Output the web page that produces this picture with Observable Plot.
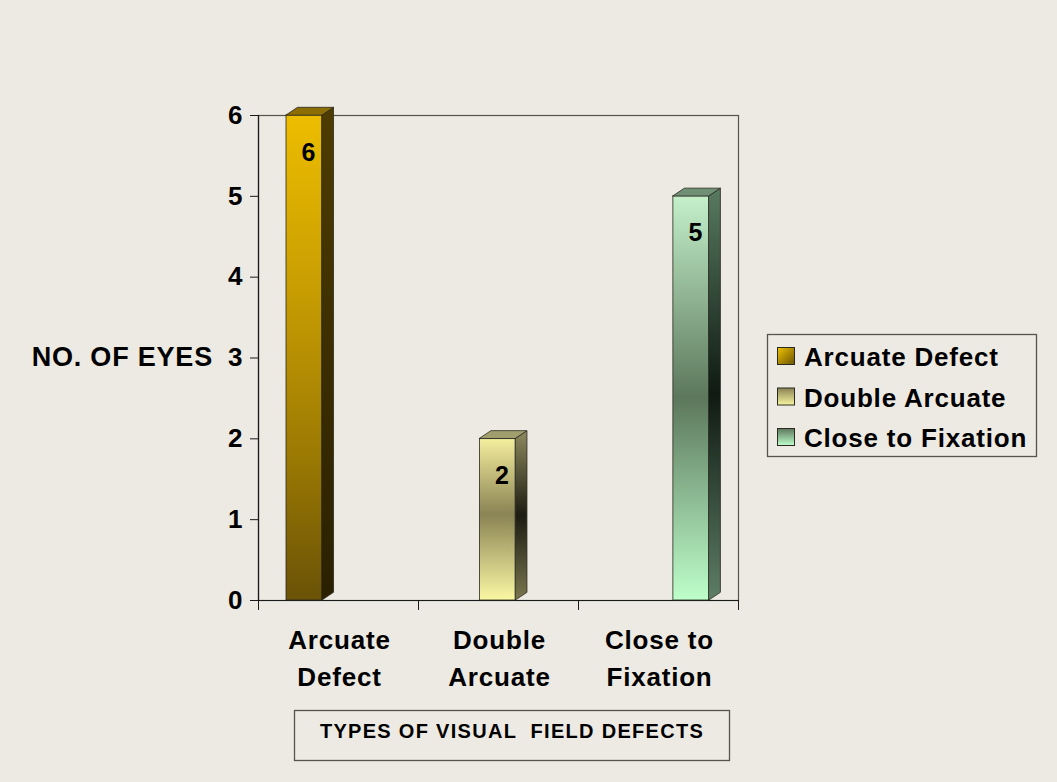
<!DOCTYPE html>
<html>
<head>
<meta charset="utf-8">
<script src="https://cdn.jsdelivr.net/npm/d3@7"></script>
<script src="https://cdn.jsdelivr.net/npm/@observablehq/plot@0.6"></script>
<style>
  html, body { margin: 0; padding: 0; background: #ECEAE2; }
  #chart { width: 1057px; height: 782px; }
  svg text { font-family: "Liberation Sans", Arial, sans-serif; }
  .wide text, text.wide { letter-spacing: 0.8px; }
</style>
</head>
<body>
<div id="chart"></div>
<script>
// ---- data ----
const categories = ["Arcuate Defect", "Double Arcuate", "Close to Fixation"];
const categoryLabels = ["Arcuate\nDefect", "Double\nArcuate", "Close to\nFixation"];
const series = ["Arcuate Defect", "Double Arcuate", "Close to Fixation"];
// number of eyes: rows = category, columns = series
const counts = [
  [6, 0, 0],
  [0, 2, 0],
  [0, 0, 5]
];
const yTicks = [0, 1, 2, 3, 4, 5, 6];
const yTitle = "NO. OF EYES";
const xTitle = "TYPES OF VISUAL  FIELD DEFECTS";

// ---- layout constants (category band units) ----
const groupOffset = 0.175, barStep = 0.209, barWidth = 0.225;
const depthX = 0.072, depthY = 0.095;

const rows = [];
categories.forEach((c, i) => series.forEach((s, j) => {
  const v = counts[i][j];
  if (v > 0) {
    const x1 = i + groupOffset + j * barStep;
    rows.push({category: c, series: s, j, v, x1, x2: x1 + barWidth});
  }
}));

const gradients = [
  {front: [[0, "#EDBD00"], [0.35, "#C99E02"], [0.7, "#9C7A03"], [1, "#6A5207"]],
   side: [[0, "#4E3C00"], [1, "#2A2002"]], top: "#8C6E05",
   swatch: [[0, "#F0C400"], [1, "#6A5207"]]},
  {front: [[0, "#F4EE9E"], [0.47, "#8A8354"], [1, "#FBF8A3"]],
   side: [[0, "#8E8A5E"], [0.5, "#1C1C12"], [1, "#7A774F"]], top: "#A19E6E",
   swatch: [[0, "#8A8354"], [1, "#F8F4A0"]]},
  {front: [[0, "#C4F0CA"], [0.5, "#5C775C"], [1, "#BEFFCB"]],
   side: [[0, "#587A60"], [0.5, "#0F1A12"], [1, "#5E7E66"]], top: "#6F9074",
   swatch: [[0, "#5C775C"], [1, "#BEFFCB"]]}
];

function defsMark() {
  const defs = d3.create("svg:defs");
  gradients.forEach((g, j) => {
    for (const key of ["front", "side", "swatch"]) {
      const lg = defs.append("linearGradient")
        .attr("id", key + j).attr("x1", 0).attr("y1", 0).attr("x2", key === "swatch" && j === 0 ? 1 : 0).attr("y2", 1);
      g[key].forEach(([o, c]) => lg.append("stop").attr("offset", o).attr("stop-color", c));
    }
  });
  return defs.node();
}

const font = '"Liberation Sans", Arial, sans-serif';

const barMarks = rows.flatMap(d => {
  const side = [{x: d.x2, y1: 0, y2: d.v}, {x: d.x2 + depthX, y1: depthY, y2: d.v + depthY}];
  const top = [{y: d.v, x1: d.x1, x2: d.x2}, {y: d.v + depthY, x1: d.x1 + depthX, x2: d.x2 + depthX}];
  return [
    Plot.rectY([d], {x1: "x1", x2: "x2", y1: 0, y2: "v", fill: `url(#front${d.j})`, stroke: "#2a2a20", strokeWidth: 0.8}),
    Plot.areaY(side, {x: "x", y1: "y1", y2: "y2", fill: `url(#side${d.j})`, stroke: "#2a2a20", strokeWidth: 0.8}),
    Plot.areaX(top, {y: "y", x1: "x1", x2: "x2", fill: gradients[d.j].top, stroke: "#2a2a20", strokeWidth: 0.8})
  ];
});

const chart = Plot.plot({
  width: 1057,
  height: 782,
  marginLeft: 258,
  marginRight: 319,
  marginTop: 115,
  marginBottom: 182,
  x: {domain: [0, 3]},
  y: {domain: [0, 6]},
  style: {background: "#ECEAE2", color: "#000", fontFamily: font},
  marks: [
    defsMark,
    Plot.frame({stroke: "#55554c", strokeWidth: 1.2}),
    Plot.ruleX([0], {stroke: "#1a1a1a", strokeWidth: 1.2}),
    Plot.ruleY([0], {stroke: "#1a1a1a", strokeWidth: 1.2}),
    Plot.axisY({ticks: yTicks, tickFormat: d => String(d), tickSize: 8, tickPadding: 8, fontSize: 26, fontWeight: "bold", label: null, stroke: "#1a1a1a"}),
    Plot.axisX({ticks: [0, 1, 2, 3], tickSize: 10, tickFormat: () => "", label: null, stroke: "#1a1a1a"}),
    Plot.text(categoryLabels, {x: (d, i) => i + 0.5, y: 0, text: d => d, dy: 22, dx: 1, lineAnchor: "top", lineHeight: 1.42, fontSize: 26, fontWeight: "bold", fill: "#000", className: "wide"}),
    ...barMarks,
    Plot.text(rows, {x: d => (d.x1 + d.x2) / 2 + 0.025, y: "v", text: d => String(d.v), dy: 37, fontSize: 25, fontWeight: "bold", fill: "#000"})
  ]
});

const svg = d3.select(chart);
// y-axis title
svg.append("text").attr("x", 213).attr("y", 357).attr("text-anchor", "end").attr("dominant-baseline", "central")
  .attr("class", "wide").attr("font-size", 27).attr("font-weight", "bold").attr("fill", "#000").text(yTitle);
// x-axis title box
svg.append("rect").attr("x", 294.5).attr("y", 710.5).attr("width", 435).attr("height", 50)
  .attr("fill", "none").attr("stroke", "#55554c").attr("stroke-width", 1.3);
svg.append("text").attr("x", 512).attr("y", 731).attr("text-anchor", "middle").attr("dominant-baseline", "central")
  .attr("font-size", 20).attr("font-weight", "bold").attr("letter-spacing", "1.3px").attr("fill", "#000").text(xTitle);
// legend
const lg = svg.append("g");
lg.append("rect").attr("x", 767.5).attr("y", 334.5).attr("width", 269).attr("height", 122)
  .attr("fill", "none").attr("stroke", "#55554c").attr("stroke-width", 1.3);
series.forEach((s, j) => {
  const cy = 356 + j * 40.5;
  lg.append("rect").attr("x", 777.5).attr("y", cy - 8.5).attr("width", 17).attr("height", 17)
    .attr("fill", `url(#swatch${j})`).attr("stroke", "#2a2a20").attr("stroke-width", 1);
  lg.append("text").attr("x", 804).attr("y", cy + 1).attr("text-anchor", "start").attr("dominant-baseline", "central")
    .attr("class", "wide").attr("font-size", 26).attr("font-weight", "bold").attr("fill", "#000").text(s);
});

document.getElementById("chart").appendChild(chart);
</script>
</body>
</html>
